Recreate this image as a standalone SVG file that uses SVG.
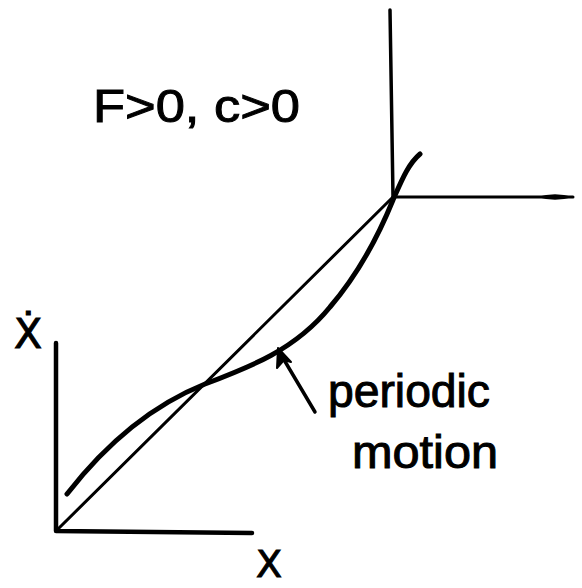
<svg xmlns="http://www.w3.org/2000/svg" width="582" height="588" viewBox="0 0 582 588">
<style>
.ln{fill:none;stroke:#000;stroke-linecap:round;stroke-linejoin:round}
.t{font-family:"Liberation Sans","DejaVu Sans",sans-serif;fill:#000;stroke:#000;stroke-width:1}
.m{font-family:"DejaVu Sans","Liberation Sans",sans-serif;fill:#000;stroke:#000;stroke-width:1}
</style>
<defs>
<marker id="sp" viewBox="0 0 20 6" refX="20" refY="3" markerWidth="12" markerHeight="3.6" orient="auto" markerUnits="strokeWidth">
<path d="M0,3 Q10,0 20,3 Q10,6 0,3 Z" fill="#000"/>
</marker>
</defs>
<rect width="582" height="588" fill="#fff"/>
<g id="axes">
<path class="ln" d="M56,343 L56,531 L252,533" stroke-width="4.5"/>
<path class="ln" d="M390,10 L393,197" stroke-width="3.5"/>
<path class="ln" d="M393,197 L573,197" stroke-width="3" marker-end="url(#sp)"/>
</g>
<g id="connectors">
<path id="diagonal" class="ln" d="M56,531 L393,197" stroke-width="3"/>
<path id="curve" class="ln" d="M67,494 C95,458 140,410 205,384 C250,367 295,350 330,307 C360,272 380,232 393,200 C401,182 408,164 420,154" stroke-width="5"/>
<path id="pointer" class="ln" d="M315,412 L280,353" stroke-width="3.5"/>
<path d="M278,348 L291,362 L284,360 L277,368 Z" fill="#000" stroke="#000" stroke-width="2" stroke-linejoin="round"/>
</g>
<g id="labels">
<text class="t" x="93" y="122" font-size="47" textLength="207" lengthAdjust="spacingAndGlyphs">F&gt;0, c&gt;0</text>
<text class="m" x="14" y="348" font-size="41">Ẋ</text>
<text class="m" x="256" y="577" font-size="38">X</text>
<text class="t" x="328" y="407" font-size="46" textLength="162" lengthAdjust="spacingAndGlyphs">periodic</text>
<text class="t" x="352" y="468" font-size="46" textLength="146" lengthAdjust="spacingAndGlyphs">motion</text>
</g>
</svg>
